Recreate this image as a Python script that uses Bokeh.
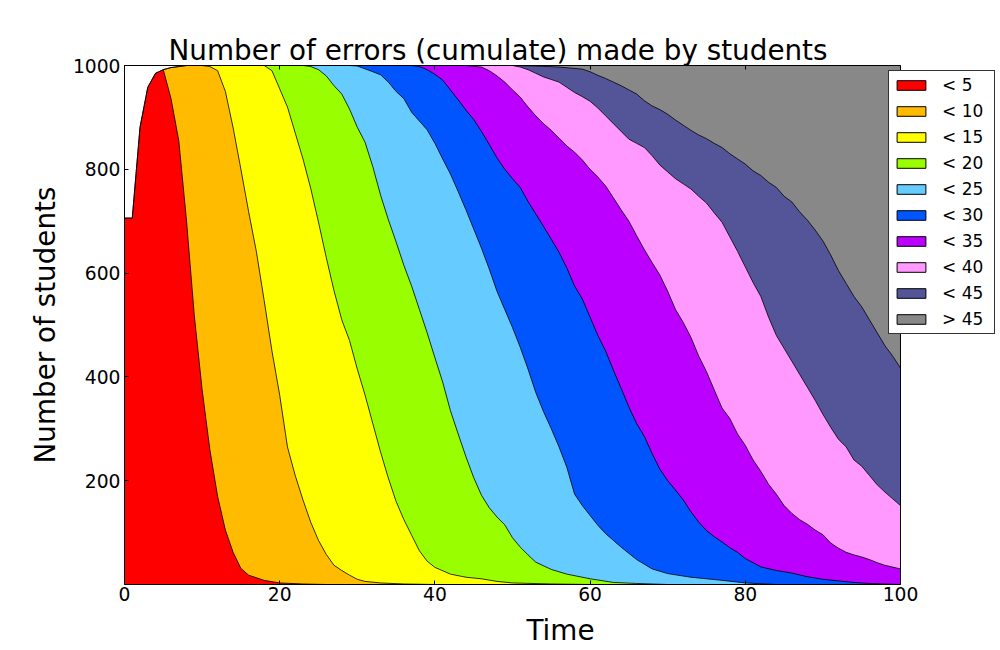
from bokeh.plotting import figure
from bokeh.models import Range1d, FixedTicker, LinearAxis, Legend, LegendItem, Span
from bokeh.embed import file_html
from bokeh.resources import INLINE

FONT = "DejaVu Sans"

labels = ["< 5", "< 10", "< 15", "< 20", "< 25", "< 30", "< 35", "< 40", "< 45", "> 45"]
colors = ["#FF0000", "#FFBB00", "#FFFF00", "#99FF00", "#66CCFF",
          "#0055FF", "#BB00FF", "#FF99FF", "#545599", "#888888"]

# Cumulative upper edge of each band (number of students), sampled in time
t_lt5 = [0, 1, 2, 3, 4, 5, 6, 7, 8, 9, 10, 11, 12, 13, 14, 15, 16, 18, 20, 23, 26]
y_lt5 = [706, 706, 881, 958, 985, 992, 936, 855, 700, 518, 376, 260, 170, 105, 62, 31, 18, 8, 3, 1, 0]

t_lt10 = [5, 6, 7, 8, 10, 11, 12, 13, 14, 15, 16, 17, 18, 19, 20, 21, 22, 23, 24, 25,
          26, 27, 28, 29, 30, 31, 33, 36, 40]
y_lt10 = [992, 996, 998, 1000, 1000, 998, 990, 950, 880, 800, 718, 641, 547, 450, 365, 265, 210, 163, 120, 85,
          58, 37, 27, 18, 10, 6, 3, 1, 0]

t_lt15 = [8, 18, 19, 20, 21, 22, 23, 24, 25, 26, 27, 28, 29, 30, 31, 32, 33, 34, 35, 36,
          37, 38, 39, 40, 42, 44, 46, 48, 50, 55, 60]
y_lt15 = [1000, 1000, 990, 955, 920, 870, 820, 763, 698, 630, 566, 510, 470, 415, 365, 310, 255, 205, 160, 125,
          95, 65, 45, 33, 20, 14, 11, 6, 3, 1, 0]

t_lt20 = [8, 23, 24, 25, 26, 27, 28, 29, 30, 31, 32, 33, 34, 35, 36, 37, 38, 39, 40, 41,
          42, 43, 44, 45, 46, 47, 48, 49, 50, 51, 52, 53, 55, 57, 60, 63, 66, 70]
y_lt20 = [1000, 1000, 998, 992, 980, 961, 945, 916, 881, 852, 805, 750, 703, 660, 615, 575, 530, 485, 437, 390,
          335, 290, 246, 206, 172, 148, 130, 115, 90, 72, 57, 43, 29, 20, 11, 4, 2, 0]

t_lt25 = [8, 29, 30, 32, 33, 34, 35, 36, 37, 38, 39, 40, 41, 42, 43, 44, 45, 46, 47, 48,
          49, 50, 51, 52, 53, 54, 55, 56, 57, 58, 59, 60, 61, 62, 63, 64, 66, 68, 70, 73,
          77, 80, 84]
y_lt25 = [1000, 1000, 999, 988, 982, 968, 950, 936, 910, 893, 876, 850, 820, 791, 757, 722, 685, 648, 608, 565,
          530, 495, 457, 415, 370, 333, 300, 265, 226, 174, 152, 133, 114, 98, 85, 72, 48, 30, 21, 14,
          8, 3, 0]

t_lt30 = [8, 37, 38, 39, 40, 41, 42, 43, 44, 45, 46, 47, 48, 49, 50, 51, 52, 53, 54, 55,
          56, 57, 58, 59, 60, 61, 62, 63, 64, 65, 66, 67, 68, 69, 70, 71, 72, 73, 74, 75,
          76, 77, 78, 79, 80, 82, 84, 86, 88, 90, 92, 94, 96, 100]
y_lt30 = [1000, 1000, 998, 992, 983, 972, 953, 934, 914, 896, 873, 848, 822, 800, 782, 765, 738, 714, 690, 665,
          640, 610, 575, 550, 515, 480, 450, 413, 378, 342, 310, 285, 252, 222, 200, 182, 163, 140, 120, 104,
          92, 82, 71, 62, 50, 34, 27, 22, 15, 10, 7, 4, 2, 0]

t_lt35 = [8, 44, 46, 47, 48, 49, 50, 51, 52, 53, 54, 55, 56, 57, 58, 59, 60, 61, 62, 63,
          64, 65, 66, 67, 68, 69, 70, 71, 72, 73, 74, 75, 76, 77, 78, 79, 80, 81, 82, 83,
          84, 85, 86, 87, 88, 89, 90, 91, 92, 93, 94, 95, 96, 97, 98, 100]
y_lt35 = [1000, 1000, 997, 990, 980, 968, 953, 939, 920, 903, 888, 875, 860, 845, 833, 818, 800, 785, 768, 745,
          722, 700, 672, 645, 620, 596, 565, 530, 505, 476, 440, 410, 375, 340, 320, 290, 268, 240, 218, 193,
          174, 152, 137, 125, 116, 105, 96, 80, 70, 62, 57, 53, 48, 42, 37, 30]

t_lt40 = [8, 50, 51, 52, 53, 54, 55, 56, 57, 58, 59, 60, 61, 62, 63, 64, 65, 66, 67, 68,
          69, 70, 71, 72, 73, 74, 75, 76, 77, 78, 79, 80, 81, 82, 83, 84, 85, 86, 87, 88,
          89, 90, 91, 92, 93, 94, 95, 96, 97, 98, 99, 100]
y_lt40 = [1000, 1000, 997, 992, 985, 978, 973, 968, 958, 948, 940, 931, 918, 903, 888, 873, 858, 850, 842, 826,
          808, 795, 782, 772, 762, 748, 735, 716, 698, 670, 642, 612, 582, 555, 515, 480, 455, 430, 405, 380,
          355, 328, 303, 280, 265, 240, 228, 210, 192, 178, 165, 152]

t_lt45 = [8, 50, 53, 56, 59, 60, 61, 62, 63, 64, 65, 66, 67, 68, 69, 70, 71, 72, 73, 74,
          75, 76, 77, 78, 79, 80, 81, 82, 83, 84, 85, 86, 87, 88, 89, 90, 91, 92, 93, 94,
          95, 96, 97, 98, 99, 100]
y_lt45 = [1000, 1000, 999, 997, 993, 988, 981, 975, 968, 961, 953, 945, 932, 922, 915, 906, 895, 885, 875, 866,
          859, 850, 842, 830, 820, 810, 797, 788, 775, 765, 748, 737, 718, 702, 683, 662, 635, 605, 580, 555,
          535, 510, 485, 460, 440, 417]

# total number of students who have started (top of the stack)
t_all = [0, 1, 2, 3, 4, 5, 6, 7, 8, 100]
y_all = [706, 706, 881, 958, 985, 992, 996, 998, 1000, 1000]

x_ticks = [0, 20, 40, 60, 80, 100]
y_ticks = [200, 400, 600, 800, 1000]

edges = [(t_lt5, y_lt5), (t_lt10, y_lt10), (t_lt15, y_lt15), (t_lt20, y_lt20), (t_lt25, y_lt25),
         (t_lt30, y_lt30), (t_lt35, y_lt35), (t_lt40, y_lt40), (t_lt45, y_lt45), (t_all, y_all)]

# layout (pixels): axes box from x=124 to 900, y=65 to 584; the frame is widened
# to 996 so that the legend, which sticks out right of the axes, is not clipped
W, H = 1000, 650
AX_L, AX_R, FR_R = 124, 900, 996
AX_T, AX_B = 65, 584
x_min, x_max = x_ticks[0], x_ticks[-1]
x_end = x_min + (x_max - x_min) * (FR_R - AX_L) / (AX_R - AX_L)

p = figure(width=W, height=H, x_range=Range1d(x_min, x_end), y_range=Range1d(0, 1000),
           output_backend="svg", toolbar_location=None,
           min_border_left=AX_L, min_border_right=W - FR_R, min_border_top=AX_T,
           min_border_bottom=H - AX_B)
p.background_fill_color = "white"
p.border_fill_color = "white"
p.outline_line_color = None
p.xgrid.visible = False
p.ygrid.visible = False

# paint from the top band down so each lower band covers the one above it
for (tx, ty), col in reversed(list(zip(edges, colors))):
    p.varea(x=tx, y1=0, y2=ty, fill_color=col)
for tx, ty in edges:
    p.line(tx, ty, line_color="black", line_width=0.8)

xt = FixedTicker(ticks=x_ticks)
yt = FixedTicker(ticks=y_ticks)
bottom_ax = p.below[0]
left_ax = p.left[0]
bottom_ax.ticker = xt
left_ax.ticker = yt
bottom_ax.bounds = (x_min, x_max)
bottom_ax.axis_label = "Time"
left_ax.axis_label = "Number of students"
bottom_ax.major_label_standoff = 2
bottom_ax.axis_label_standoff = 10
left_ax.major_label_standoff = 4
left_ax.axis_label_standoff = 8
for ax in (bottom_ax, left_ax):
    ax.major_label_text_font = FONT
    ax.major_label_text_font_size = "18.7px"
    ax.major_label_text_color = "black"
    ax.axis_label_text_font = FONT
    ax.axis_label_text_font_size = "27.8px"
    ax.axis_label_text_font_style = "normal"
    ax.axis_label_text_color = "black"

top_ax = LinearAxis(ticker=xt, bounds=(x_min, x_max))
top_ax.major_label_text_color = None
top_ax.major_label_text_font_size = "1px"
top_ax.major_label_standoff = 0
p.add_layout(top_ax, "above")

for ax in (bottom_ax, left_ax, top_ax):
    ax.axis_line_color = "black"
    ax.axis_line_width = 1
    ax.major_tick_in = 4
    ax.major_tick_out = 0
    ax.minor_tick_line_color = None
    ax.major_tick_line_color = "black"

# right spine of the axes box at the last time value
p.add_layout(Span(location=x_max, dimension="height", line_color="black", line_width=1))

p.title.text = "Number of errors  (cumulate) made by students"
p.title.text_font = FONT
p.title.text_font_size = "27.8px"
p.title.text_font_style = "normal"
p.title.text_color = "black"
p.title.align = "left"
p.title.offset = 168 - AX_L
p.title.standoff = -3

# legend proxies (hidden renderers carrying the band styles)
items = []
for lab, col in zip(labels, colors):
    r = p.quad(left=[x_min], right=[x_min], top=[0], bottom=[0],
               fill_color=col, line_color="black", line_width=1, visible=False)
    items.append(LegendItem(label=lab, renderers=[r]))
legend = Legend(items=items, location=(888 - AX_L, AX_B - 334), orientation="vertical",
                glyph_width=36, glyph_height=12, label_height=20, label_width=48, spacing=6,
                padding=4, margin=0,
                label_standoff=13, label_text_font=FONT, label_text_font_size="17px",
                label_text_color="black",
                inactive_fill_alpha=0.0,
                border_line_color="black", border_line_width=1, border_line_alpha=0.8,
                background_fill_color="white", background_fill_alpha=1.0)
p.add_layout(legend, "center")

open("out.html", "w").write(file_html(p, INLINE))
